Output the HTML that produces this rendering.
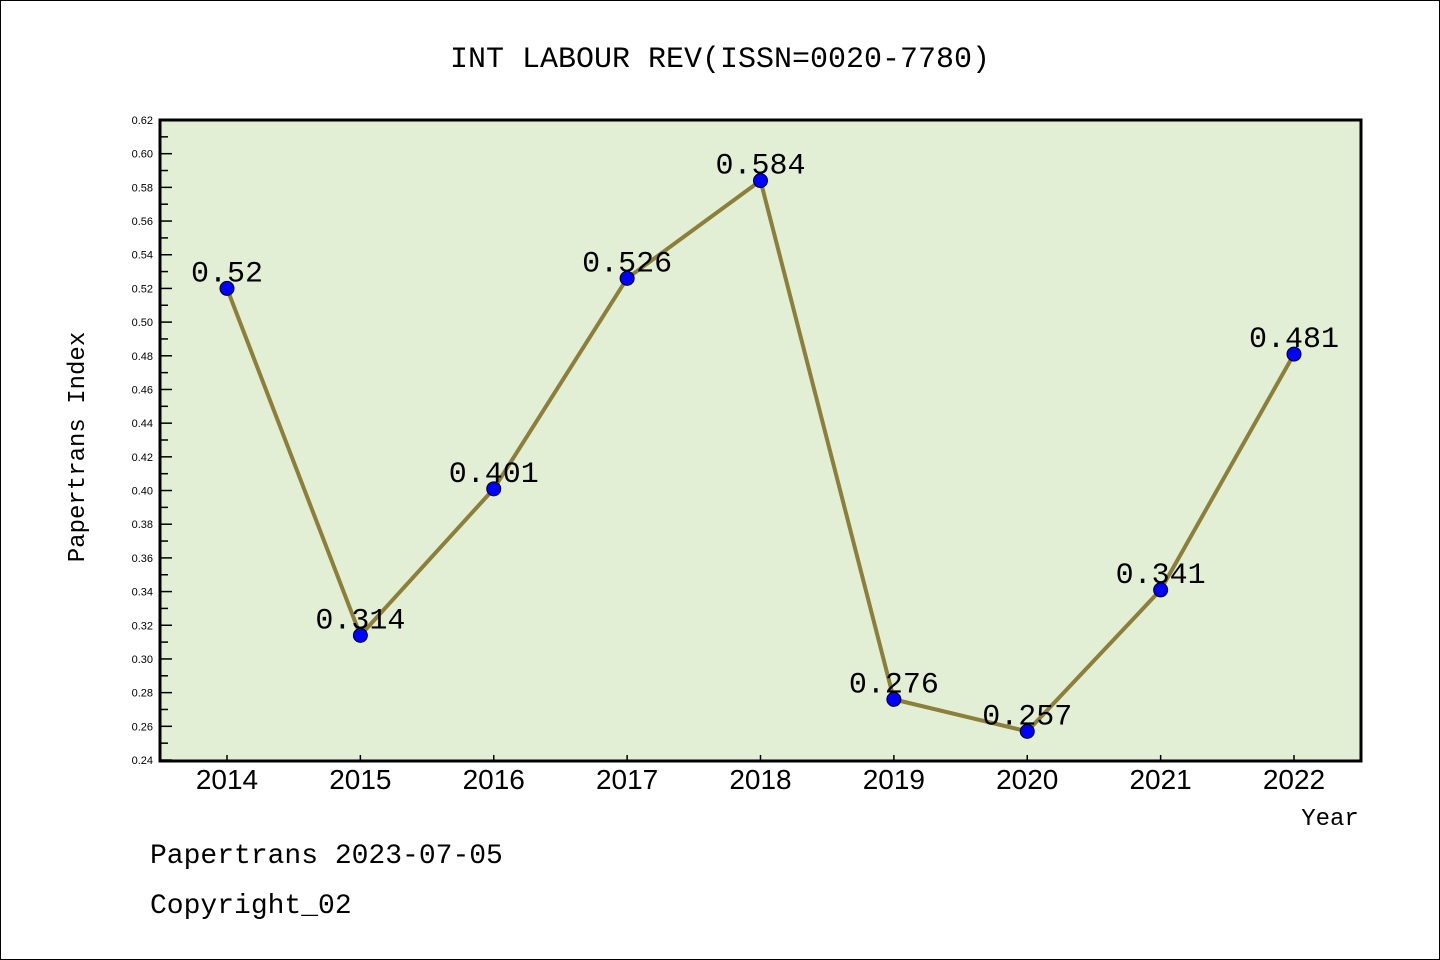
<!DOCTYPE html>
<html><head><meta charset="utf-8"><style>
body{margin:0;background:#fff}
svg{display:block}
</style></head><body>
<svg id="chart" width="1440" height="960" xmlns="http://www.w3.org/2000/svg" font-family="'Liberation Sans','WenQuanYi Zen Hei',sans-serif">
<rect x="0.5" y="0.5" width="1439" height="959" fill="#fff" stroke="#000"/>
<text x="720" y="67" text-anchor="middle" font-size="30" font-family="'WenQuanYi Zen Hei','Liberation Mono',monospace">INT LABOUR REV(ISSN=0020-7780)</text>
<rect x="160" y="120" width="1201" height="641" fill="#e2efd5"/>
<g id="axes"></g>
<g id="series"></g>
<rect x="160" y="120" width="1201" height="641" fill="none" stroke="#000" stroke-width="3"/>
<text transform="translate(84,447) rotate(-90)" text-anchor="middle" font-size="24" font-family="'WenQuanYi Zen Hei','Liberation Mono',monospace">Papertrans Index</text>
<text x="1330" y="825" text-anchor="middle" font-size="24" font-family="'WenQuanYi Zen Hei','Liberation Mono',monospace">Year</text>
<text x="150" y="863" font-size="28" font-family="'WenQuanYi Zen Hei','Liberation Mono',monospace">Papertrans 2023-07-05</text>
<text x="150" y="913" font-size="28" font-family="'WenQuanYi Zen Hei','Liberation Mono',monospace">Copyright_02</text>
</svg>
<script>
const categories=["2014","2015","2016","2017","2018","2019","2020","2021","2022"];
const values=[0.52,0.314,0.401,0.526,0.584,0.276,0.257,0.341,0.481];
const valueLabels=["0.52","0.314","0.401","0.526","0.584","0.276","0.257","0.341","0.481"];
const yTicks=[0.24,0.26,0.28,0.30,0.32,0.34,0.36,0.38,0.40,0.42,0.44,0.46,0.48,0.50,0.52,0.54,0.56,0.58,0.60,0.62];
const yMin=0.24,yMax=0.62;
const NS="http://www.w3.org/2000/svg";
function X(i){return 227+i*(1294-227)/(categories.length-1);}
function Y(v){return 760-(v-yMin)/(yMax-yMin)*640;}
function mk(tag,attrs,parent){const e=document.createElementNS(NS,tag);for(const k in attrs)e.setAttribute(k,attrs[k]);parent.appendChild(e);return e;}
const axes=document.getElementById('axes'),series=document.getElementById('series');
yTicks.forEach((t,i)=>{
  const y=Y(t);
  const l=mk('line',{x1:160,x2:172,y1:y,y2:y,stroke:'#000','stroke-width':1.5},axes);
  
  
  const tx=mk('text',{x:153,y:y+4,'text-anchor':'end','font-size':11},axes);
  tx.textContent=t.toFixed(2);
  
  
  if(i<yTicks.length-1){
    const ym=Y(t+0.01);
    const m=mk('line',{x1:160,x2:168,y1:ym,y2:ym,stroke:'#000','stroke-width':1.5},axes);
    
    
  }
});
categories.forEach((c,i)=>{
  const x=X(i);
  const l=mk('line',{x1:x,x2:x,y1:761,y2:755,stroke:'#000','stroke-width':1.5},axes);
  
  
  const tx=mk('text',{x:x,y:789,'text-anchor':'middle','font-size':28},axes);
  tx.textContent=c;
  
  
});
const pts=values.map((v,i)=>X(i)+','+Y(v)).join(' ');
const pl=mk('polyline',{points:pts,fill:'none',stroke:'#8c7f3a','stroke-width':4,'stroke-linejoin':'round'},series);


values.forEach((v,i)=>{
  const c=mk('circle',{cx:X(i),cy:Y(v),r:7,fill:'#0000ff',stroke:'#000','stroke-width':1},series);
  
  
  const t=mk('text',{x:X(i),y:Y(v)-7,'text-anchor':'middle','font-size':30,'font-family':"'WenQuanYi Zen Hei','Liberation Mono',monospace"},series);
  t.textContent=valueLabels[i];
  
  
});
</script>
</body></html>
